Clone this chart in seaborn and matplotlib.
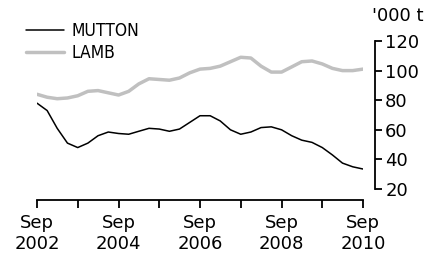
#Librerias
import pandas as pd
import numpy as np
import seaborn as sns
import matplotlib.pyplot as plt
from matplotlib.lines import Line2D

#Datos trimestrales, Sep 2002 a Sep 2010 ('000 t)
fechas = pd.date_range('2002-09-01', '2010-09-01', freq='3MS')
mutton = [78, 73, 61, 51, 48, 51, 56, 58.5, 57.5, 57, 59, 61, 60.5, 59, 60.5, 65,
          69.5, 69.5, 66, 60, 57, 58.5, 61.5, 62, 60, 56, 53, 51.5, 48, 43, 37.5, 35, 33.5]
lamb = [84, 82, 81, 81.5, 83, 86, 86.5, 85, 83.5, 86, 91, 94.5, 94, 93.5, 95, 98.5,
        101, 101.5, 103, 106, 109, 108.5, 103, 99, 99, 102.5, 106, 106.5, 104.5, 101.5, 100, 100, 101]
series = ['MUTTON', 'LAMB']
colores = {'MUTTON': 'black', 'LAMB': '#c0c0c0'}
grosores = {'MUTTON': 1.1, 'LAMB': 2.5}
anios_ticks = pd.date_range('2002-09-01', '2010-09-01', freq='12MS')

df = pd.DataFrame({
    'fecha': list(fechas) * 2,
    'valor': mutton + lamb,
    'serie': ['MUTTON'] * len(mutton) + ['LAMB'] * len(lamb),
})

sns.set_style('white')
plt.rcParams['font.family'] = ['DejaVu Sans']
plt.rcParams['text.color'] = 'black'

fig = plt.figure(figsize=(4.29, 2.61), dpi=100)
ax = fig.add_axes([37 / 429, 72 / 261, 326 / 429, 148 / 261])

sns.lineplot(data=df, x='fecha', y='valor', hue='serie', palette=colores,
             size='serie', sizes=grosores, ax=ax, legend=False)

#Ejes
ax.set_xlim(fechas[0], fechas[-1])
ax.set_ylim(20, 120)
ax.set_xlabel('')
ax.set_ylabel('')
ax.set_xticks(anios_ticks)
ax.set_xticklabels(['Sep\n' + str(d.year) if d.year % 2 == 0 else '' for d in anios_ticks])
for lab in ax.get_xticklabels():
    lab.set_linespacing(1.35)
ax.set_yticks([20, 40, 60, 80, 100, 120])

ax.spines['top'].set_visible(False)
ax.spines['left'].set_visible(False)
ax.spines['bottom'].set_position(('outward', 8))
ax.spines['right'].set_position(('outward', 8.5))
for s in ['bottom', 'right']:
    ax.spines[s].set_color('black')
    ax.spines[s].set_linewidth(1.3)

ax.tick_params(axis='x', direction='out', length=6, width=1.3, pad=4,
               labelsize=13, bottom=True, colors='black')
ax.tick_params(axis='y', direction='out', length=5, width=1.3, pad=2.5,
               labelsize=13, left=False, right=True, labelleft=False,
               labelright=True, colors='black')

#Leyenda
handles = [Line2D([], [], color=colores[s], lw=grosores[s]) for s in series]
leg = ax.legend(handles, series, loc='upper left', bbox_to_anchor=(26 / 429, 0.915),
                bbox_transform=fig.transFigure, frameon=False,
                prop={'family': 'DejaVu Sans', 'stretch': 'condensed', 'size': 12.5},
                handlelength=2.2, handletextpad=0.4, labelspacing=0.2,
                borderpad=0, borderaxespad=0)
for t in leg.get_texts():
    t.set_color('black')

fig.text(372 / 429, (261 - 16) / 261, "'000 t", ha='left', va='center',
         fontsize=13, color='black')

plt.savefig('out.png', dpi=100)
